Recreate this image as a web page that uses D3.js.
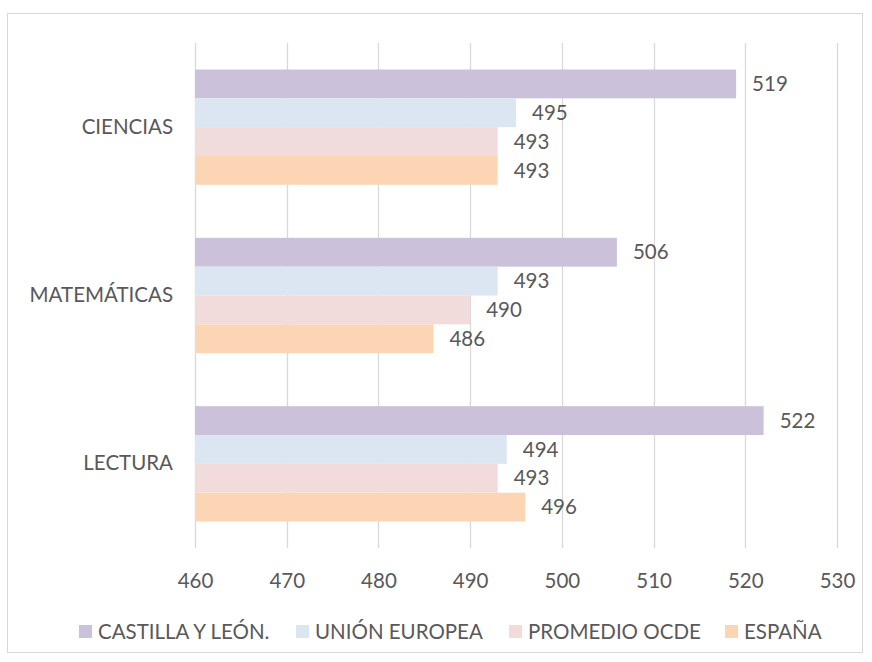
<!DOCTYPE html>
<html lang="es">
<head>
<meta charset="utf-8">
<title>PISA</title>
<style>
  body { margin: 0; background: #fff; }
  text { font-family: Lato, "Open Sans", sans-serif; fill: #595959; }
</style>
<script src="https://d3js.org/d3.v7.min.js"></script>
</head>
<body>
<svg width="872" height="662"></svg>
<script>
// data
var categories = ["CIENCIAS", "MATEMÁTICAS", "LECTURA"];
var series = ["CASTILLA Y LEÓN.", "UNIÓN EUROPEA", "PROMEDIO OCDE", "ESPAÑA"];
var castilla = [519, 506, 522];
var ue = [495, 493, 494];
var ocde = [493, 490, 493];
var espana = [493, 486, 496];
var ticks = [460, 470, 480, 490, 500, 510, 520, 530];
var colors = ["#ccc1da", "#dce6f2", "#f2dcdb", "#fcd5b5"];

var values = [castilla, ue, ocde, espana];
var fontSize = "20.5px";

var svg = d3.select("svg");

svg.append("rect")
   .attr("x", 7.5).attr("y", 13.5)
   .attr("width", 855).attr("height", 639)
   .attr("fill", "#fff").attr("stroke", "#d9d9d9");

var plotL = 195, plotR = 837, plotT = 43, plotB = 548;

var x = d3.scaleLinear().domain([460, 530]).range([plotL, plotR]);
var y = d3.scaleBand().domain(categories).range([plotT, plotB]).paddingInner(0.315).paddingOuter(0.1575);
var y1 = d3.scaleBand().domain(d3.range(series.length)).range([0, y.bandwidth()]);

// gridlines
svg.append("g").selectAll("line")
   .data(ticks).enter().append("line")
   .attr("x1", function(d) { return Math.round(x(d)) + 0.5; })
   .attr("x2", function(d) { return Math.round(x(d)) + 0.5; })
   .attr("y1", plotT).attr("y2", plotB)
   .attr("stroke", "#d9d9d9").attr("stroke-width", 1.3);

// bars
var rows = [];
categories.forEach(function(c, i) {
  series.forEach(function(s, j) {
    rows.push({ cat: c, s: j, v: values[j][i] });
  });
});

svg.append("g").selectAll("rect")
   .data(rows).enter().append("rect")
   .attr("x", x(460))
   .attr("y", function(d) { return y(d.cat) + y1(d.s); })
   .attr("width", function(d) { return x(d.v) - x(460); })
   .attr("height", y1.bandwidth())
   .attr("fill", function(d) { return colors[d.s]; });

svg.append("g").selectAll("text")
   .data(rows).enter().append("text")
   .attr("x", function(d) { return x(d.v) + 16; })
   .attr("y", function(d) { return y(d.cat) + y1(d.s) + y1.bandwidth() / 2; })
   .attr("dy", "0.35em")
   .attr("font-size", fontSize)
   .text(function(d) { return d.v; });

// x axis labels
var xAxis = svg.append("g")
   .attr("transform", "translate(0," + (plotB + 25) + ")")
   .call(d3.axisBottom(x).tickValues(ticks).tickSize(0).tickPadding(0));
xAxis.select(".domain").remove();
xAxis.selectAll("text").attr("font-size", fontSize).attr("fill", "#595959").attr("font-family", "Lato, sans-serif");

// category labels
var yAxis = svg.append("g")
   .attr("transform", "translate(" + (plotL - 22) + ",0)")
   .call(d3.axisLeft(y).tickSize(0).tickPadding(0));
yAxis.select(".domain").remove();
yAxis.selectAll("text").attr("font-size", fontSize).attr("fill", "#595959").attr("font-family", "Lato, sans-serif");

// legend
var legendX = [79, 296, 509, 725];
var legend = svg.append("g").selectAll("g")
   .data(series).enter().append("g")
   .attr("transform", function(d, i) { return "translate(" + legendX[i] + ",632)"; });
legend.append("rect")
   .attr("x", 0).attr("y", -7).attr("width", 13).attr("height", 13)
   .attr("fill", function(d, i) { return colors[i]; });
legend.append("text")
   .attr("x", 19).attr("dy", "0.35em")
   .attr("font-size", fontSize)
   .text(function(d) { return d; });
</script>
</body>
</html>
